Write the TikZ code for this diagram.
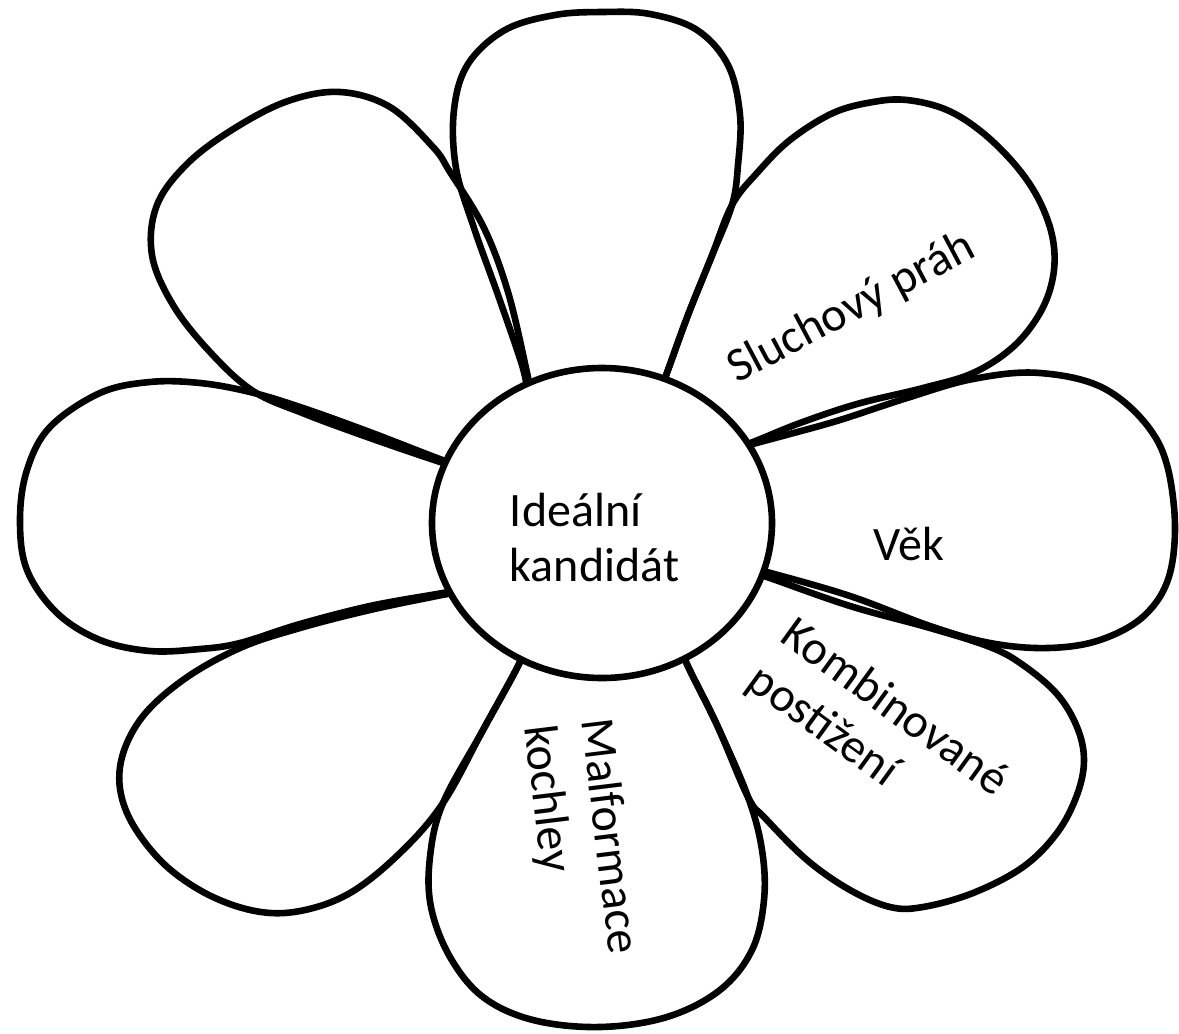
\documentclass[tikz,border=0pt]{standalone}
\usepackage{fontspec}
\setmainfont{Carlito}
\begin{document}
\begin{tikzpicture}[x=0.5pt,y=-0.5pt,
  petal/.style={draw=black, line width=3.3pt, line join=round, line cap=round},
  disc/.style={draw=black, fill=white, line width=3.3pt},
  lbl/.style={font=\fontsize{24}{29}\selectfont, inner sep=0pt, anchor=base west}]
\useasboundingbox (0,0) rectangle (1179,1034);
\fill[white] (0,0) rectangle (1179,1034);
% top petal
\draw[petal] plot[smooth, tension=0.6] coordinates {(527,390) (522,365) (498,295) (474,228) (456,168) (454,110) (468,64) (505,30) (555,15) (603,12) (650,14) (697,30) (728,65) (740,115) (738,165) (732,205) (711,258) (688,315) (668,370) (660,392)};
% upper-right petal
\draw[petal] plot[smooth, tension=0.6] coordinates {(660,392) (668,370) (688,315) (711,258) (732,205) (757,173) (790,140) (833,113) (873,102) (907,100) (947,110) (983,133) (1017,167) (1040,202) (1053,240) (1053,277) (1040,313) (1013,347) (973,373) (923,388) (857,404) (800,423) (753,442) (730,450)};
% right petal
\draw[petal] plot[smooth, tension=0.6] coordinates {(730,451) (753,444) (790,434) (840,420) (907,398) (973,379) (1040,373) (1107,390) (1157,440) (1174,507) (1170,573) (1145,615) (1100,640) (1048,648) (990,643) (930,626) (850,596) (767,572) (745,567)};
% lower-right petal
\draw[petal] plot[smooth, tension=0.6] coordinates {(745,570) (767,577) (850,606) (930,628) (990,647) (1023,665) (1057,694) (1077,727) (1084,760) (1077,795) (1057,833) (1023,867) (973,893) (923,907) (890,907) (850,890) (807,860) (765,818) (748,797) (717,725) (686,662) (680,640)};
% bottom petal
\draw[petal] plot[smooth, tension=0.6] coordinates {(680,640) (686,662) (717,725) (748,797) (762,850) (764,900) (752,950) (720,990) (667,1017) (600,1027) (533,1020) (483,997) (450,957) (431,907) (430,857) (443,803) (483,730) (520,662) (526,640)};
% lower-left petal
\draw[petal] plot[smooth, tension=0.6] coordinates {(526,640) (520,662) (483,730) (443,803) (400,853) (350,893) (300,911) (255,911) (205,893) (160,860) (127,813) (120,767) (140,720) (183,680) (240,648) (300,628) (370,610) (437,596) (460,592)};
% left petal
\draw[petal] plot[smooth, tension=0.6] coordinates {(460,590) (437,594) (370,606) (300,624) (240,643) (200,649) (150,651) (100,640) (57,613) (27,570) (20,520) (27,470) (50,427) (100,393) (150,382) (200,383) (250,392) (300,407) (367,431) (437,458) (460,466)};
% upper-left petal
\draw[petal] plot[smooth, tension=0.6] coordinates {(460,468) (437,461) (370,438) (305,414) (253,391) (210,352) (173,305) (152,255) (157,205) (188,163) (235,128) (288,101) (340,92) (390,107) (433,147) (450,172) (484,228) (508,292) (526,368) (530,390)};
% centre disc
\draw[disc] (602,523) ellipse [x radius=85pt, y radius=77.5pt];
\coordinate (hub) at (602,523);
% labels
\node[lbl] (c1) at (509.5,526) {Ideální};
\node[lbl] (c2) at (509.5,581) {kandidát};
\node[lbl, rotate=28] (sl) at (737,384) {Sluchový práh};
\node[lbl] (vek) at (873,560) {Věk};
\node[lbl, rotate=-36] (k1) at (778,640) {Kombinované};
\node[lbl, rotate=-36] (k2) at (744.5,686) {postižení};
\node[lbl, rotate=-83] (m1) at (581,720) {Malformace};
\node[lbl, rotate=-83] (m2) at (524.4,727) {kochley};
\end{tikzpicture}
\end{document}
